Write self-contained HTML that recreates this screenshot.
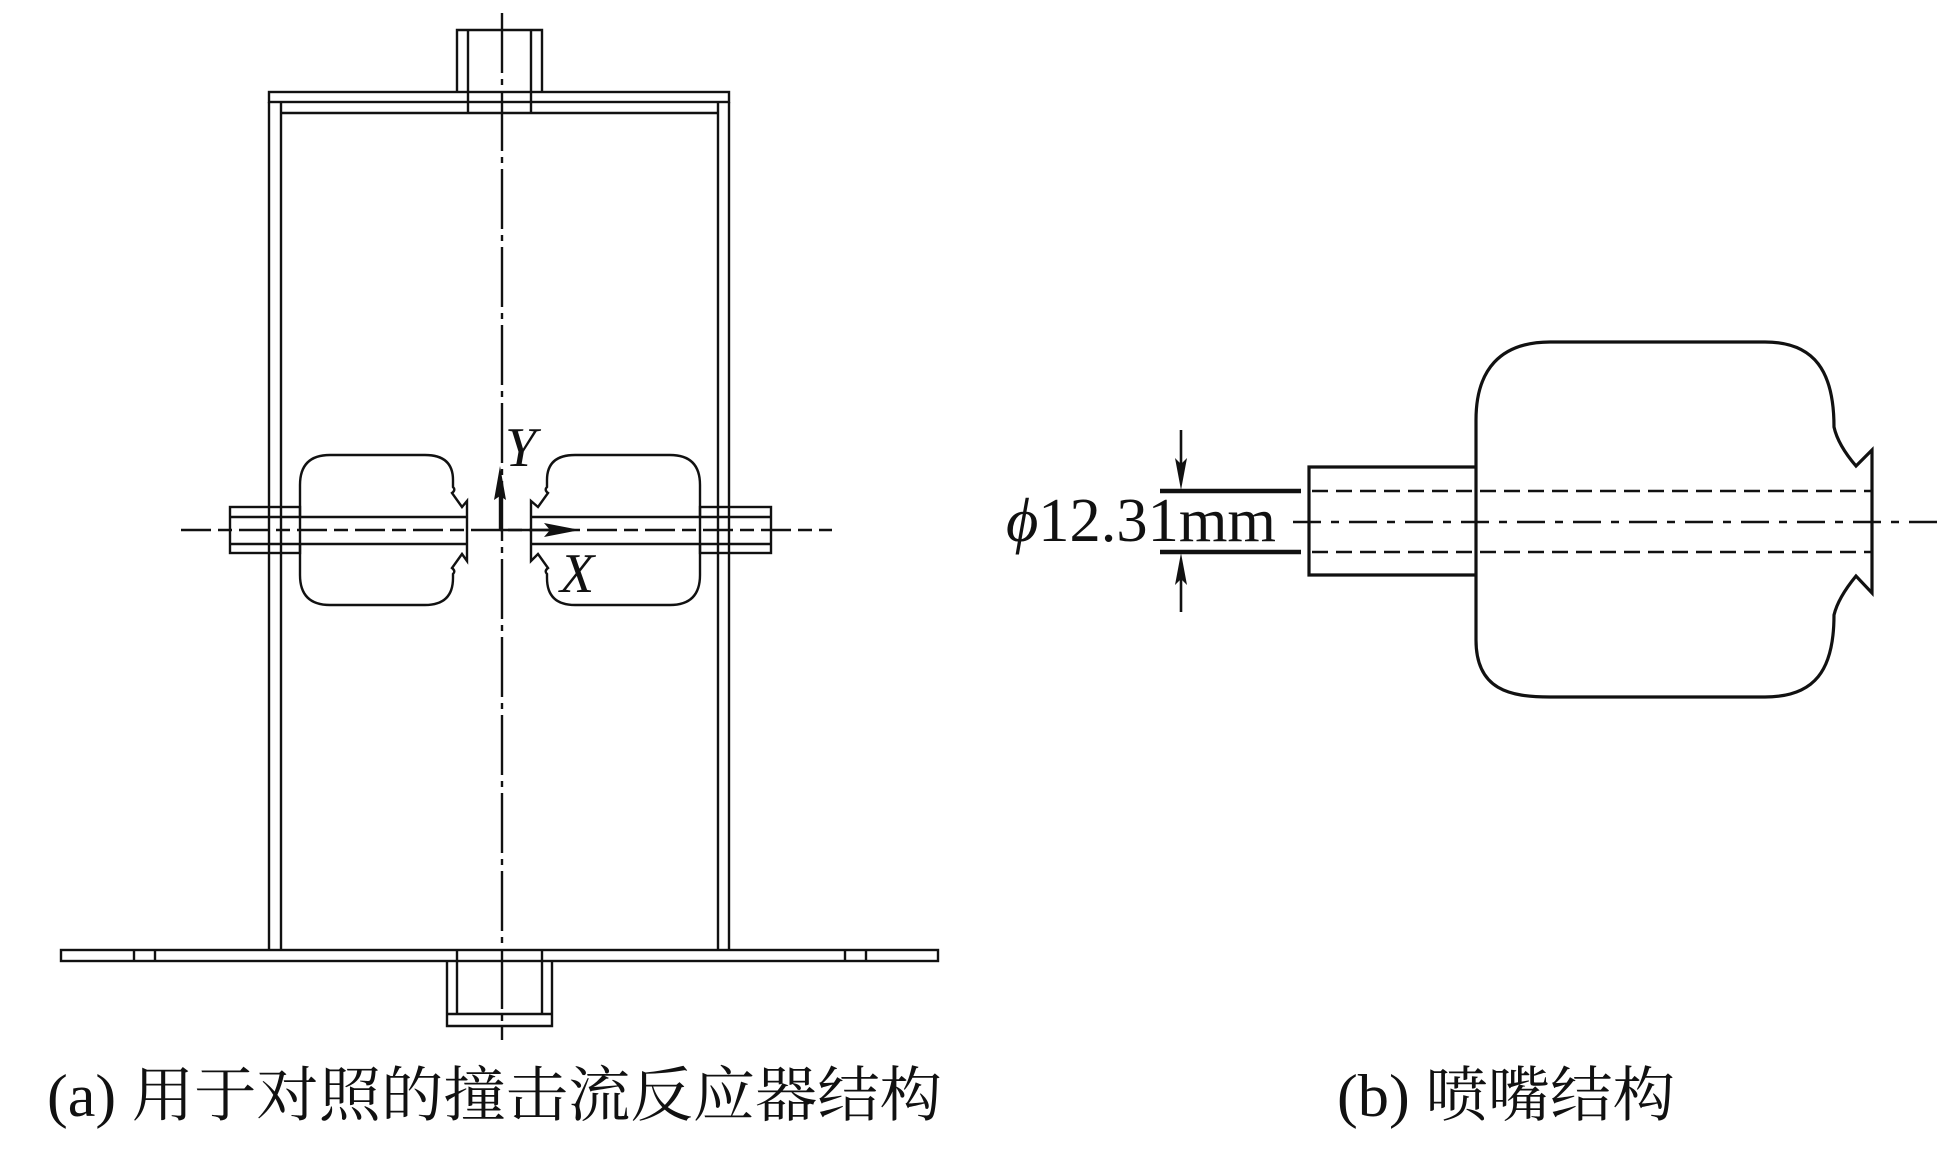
<!DOCTYPE html>
<html><head><meta charset="utf-8"><style>
html,body{margin:0;padding:0;background:#fff;}
svg{display:block;}
.t{font-family:"Liberation Serif","Noto Serif CJK SC",serif;fill:#111;}
</style></head><body>
<svg width="1952" height="1163" viewBox="0 0 1952 1163" xmlns="http://www.w3.org/2000/svg">
<g fill="none" stroke="#111" stroke-width="2.4" stroke-linecap="butt">
  <line x1="502" y1="13" x2="502" y2="1040" stroke-dasharray="60 6 6 6"/>
  <path d="M457 92 V30 H542 V92"/>
  <line x1="468" y1="30" x2="468" y2="113"/>
  <line x1="531" y1="30" x2="531" y2="113"/>
  <rect x="269" y="92" width="460" height="10"/>
  <line x1="281" y1="113" x2="718" y2="113"/>
  <line x1="269" y1="102" x2="269" y2="950"/>
  <line x1="281" y1="102" x2="281" y2="950"/>
  <line x1="718" y1="102" x2="718" y2="950"/>
  <line x1="729" y1="102" x2="729" y2="950"/>
  <rect x="61" y="950" width="877" height="11"/>
  <line x1="134" y1="950" x2="134" y2="961"/><line x1="155" y1="950" x2="155" y2="961"/>
  <line x1="845" y1="950" x2="845" y2="961"/><line x1="866" y1="950" x2="866" y2="961"/>
  <line x1="457" y1="950" x2="457" y2="1014"/><line x1="542" y1="950" x2="542" y2="1014"/>
  <path d="M447 961 V1026 H552 V961"/>
  <line x1="447" y1="1014" x2="552" y2="1014"/>
  <line x1="181" y1="530" x2="832" y2="530" stroke-dasharray="30 7 14 7"/>
  <rect x="230" y="507" width="70" height="46"/>
  <line x1="230" y1="517" x2="467" y2="517"/>
  <line x1="230" y1="544" x2="467" y2="544"/>
  <rect x="700" y="507" width="71" height="46"/>
  <line x1="531" y1="517" x2="771" y2="517"/>
  <line x1="531" y1="544" x2="771" y2="544"/>
  <path d="M300 517 V485 Q300 455 330 455 H425 Q453 455 453 480 V487 Q456 490 452 493 L462 507 L467 501 V561 L462 554 L452 568 Q456 571 453 574 V578 Q453 605 425 605 H330 Q300 605 300 575 V544"/>
  <path d="M700 517 V485 Q700 455 670 455 H575 Q547 455 547 480 V487 Q544 490 548 493 L538 507 L531 501 V561 L538 554 L548 568 Q544 571 547 574 V578 Q547 605 575 605 H670 Q700 605 700 575 V544"/>
  <line x1="500" y1="530" x2="500" y2="480"/>
  <line x1="500" y1="530" x2="560" y2="530"/>
</g>
<polygon points="500,466 494,500 500,496 506,500" fill="#111"/>
<polygon points="580,530 544,523 550,530 544,537" fill="#111"/>
<text class="t" x="505" y="466" font-style="italic" font-size="56">Y</text>
<text class="t" x="560" y="592" font-style="italic" font-size="56">X</text>

<g fill="none" stroke="#111" stroke-width="3.2">
  <path d="M1476 575 V640 C1476 690 1510 697 1550 697 H1765 C1815 697 1834 670 1834 615 Q1838 598 1856 576 L1872 593 V450 L1856 466 Q1838 445 1834 427 C1834 372 1815 342 1765 342 H1550 C1500 342 1476 370 1476 420 Z"/>
  <path d="M1476 467 H1309 V575 H1476"/>
  <line x1="1160" y1="491" x2="1301" y2="491" stroke-width="4.5"/>
  <line x1="1160" y1="552" x2="1301" y2="552" stroke-width="4.5"/>
</g>
<g stroke="#111" stroke-width="2.6" fill="none">
  <line x1="1312" y1="491" x2="1872" y2="491" stroke-dasharray="16 8"/>
  <line x1="1312" y1="552" x2="1872" y2="552" stroke-dasharray="16 8"/>
  <line x1="1293" y1="522" x2="1942" y2="522" stroke-dasharray="28 10 8 10"/>
  <line x1="1181" y1="430" x2="1181" y2="470"/>
  <line x1="1181" y1="575" x2="1181" y2="612"/>
</g>
<polygon points="1181,490 1175,458 1181,464 1187,458" fill="#111"/>
<polygon points="1181,553 1175,585 1181,579 1187,585" fill="#111"/>
<text class="t" x="1006" y="541" font-size="62" textLength="270" lengthAdjust="spacingAndGlyphs"><tspan font-style="italic">ϕ</tspan>12.31mm</text>

<text class="t" x="47" y="1116" font-size="60" textLength="895" lengthAdjust="spacingAndGlyphs">(a) 用于对照的撞击流反应器结构</text>
<text class="t" x="1337" y="1116" font-size="60" textLength="338" lengthAdjust="spacingAndGlyphs">(b) 喷嘴结构</text>
</svg>
</body></html>
